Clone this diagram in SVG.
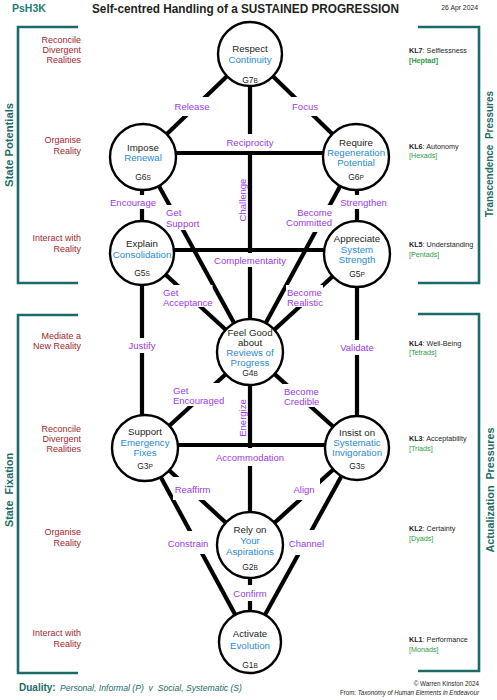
<svg xmlns="http://www.w3.org/2000/svg" width="497" height="700" viewBox="0 0 497 700">
<style>
text{font-family:"Liberation Sans",Arial,sans-serif;}
.e{stroke:#000;stroke-width:4.2;fill:none;}
.bk{stroke:#1b6b67;stroke-width:2.6;fill:none;}
.n{fill:#fff;stroke:#000;stroke-width:2.4;}
.t{font-size:9.7px;fill:#231f20;text-anchor:middle;}
.b{fill:#2a8ad4;}
.c{font-size:8.5px;fill:#231f20;text-anchor:middle;}
.s{font-size:6.5px;}
.l{font-size:9.5px;fill:#9b3ae8;}
.m{text-anchor:middle;}
.bg{fill:#fff;}
.r{font-size:9px;fill:#a4262c;text-anchor:end;}
.k{font-size:7.2px;fill:#231f20;}
.kb{font-weight:bold;}
.g{font-size:7.2px;fill:#2e9a48;}
.side{font-size:11px;font-weight:bold;fill:#1b6b67;text-anchor:middle;}
</style>

<g id="header">
<text x="12" y="11.5" style="font-size:10.5px;font-weight:bold;fill:#1b7d76">PsH3K</text>
<text x="245.5" y="13" textLength="307" lengthAdjust="spacingAndGlyphs" style="font-size:13px;font-weight:bold;fill:#231f20;text-anchor:middle">Self-centred Handling of a SUSTAINED PROGRESSION</text>
<text x="478" y="10" style="font-size:6.8px;fill:#231f20;text-anchor:end">26 Apr 2024</text>
</g>

<g id="brackets">
<path class="bk" d="M78,27 H18 V283 H78"/>
<path class="bk" d="M78,315 H18 V673 H78"/>
<path class="bk" d="M418,27 H479 V283 H418"/>
<path class="bk" d="M418,314 H479 V671 H418"/>
<text class="side" transform="translate(13,145) rotate(-90)" textLength="84" lengthAdjust="spacingAndGlyphs">State Potentials</text>
<text class="side" transform="translate(13,490) rotate(-90)" textLength="74" lengthAdjust="spacingAndGlyphs" xml:space="preserve">State  Fixation</text>
<text class="side" transform="translate(493,154) rotate(-90)" textLength="126" lengthAdjust="spacingAndGlyphs" xml:space="preserve">Transcendence  Pressures</text>
<text class="side" transform="translate(494,490) rotate(-90)" textLength="125" lengthAdjust="spacingAndGlyphs" xml:space="preserve">Actualization  Pressures</text>
</g>

<g id="left-labels">
<text class="r" x="81" y="43">Reconcile</text>
<text class="r" x="81" y="53">Divergent</text>
<text class="r" x="81" y="63">Realities</text>
<text class="r" x="81" y="143">Organise</text>
<text class="r" x="81" y="154">Reality</text>
<text class="r" x="81" y="241">Interact with</text>
<text class="r" x="81" y="252">Reality</text>
<text class="r" x="81" y="339">Mediate a</text>
<text class="r" x="81" y="349">New Reality</text>
<text class="r" x="81" y="432">Reconcile</text>
<text class="r" x="81" y="442">Divergent</text>
<text class="r" x="81" y="452">Realities</text>
<text class="r" x="81" y="535">Organise</text>
<text class="r" x="81" y="546">Reality</text>
<text class="r" x="81" y="636">Interact with</text>
<text class="r" x="81" y="647">Reality</text>
</g>

<g id="right-labels">
<text class="k" x="409" y="52.5"><tspan class="kb">KL7</tspan>: Selflessness</text>
<text class="g" x="409" y="62.5" font-weight="bold">[Heptad]</text>
<text class="k" x="409" y="148.5"><tspan class="kb">KL6</tspan>: Autonomy</text>
<text class="g" x="409" y="158">[Hexads]</text>
<text class="k" x="409" y="246.5"><tspan class="kb">KL5</tspan>: Understanding</text>
<text class="g" x="409" y="256.5">[Pentads]</text>
<text class="k" x="409" y="345.5"><tspan class="kb">KL4</tspan>: Well-Being</text>
<text class="g" x="409" y="355">[Tetrads]</text>
<text class="k" x="409" y="440.5"><tspan class="kb">KL3</tspan>: Acceptability</text>
<text class="g" x="409" y="450.5">[Triads]</text>
<text class="k" x="409" y="530.5"><tspan class="kb">KL2</tspan>: Certainty</text>
<text class="g" x="409" y="540.5">[Dyads]</text>
<text class="k" x="409" y="641.5"><tspan class="kb">KL1</tspan>: Performance</text>
<text class="g" x="409" y="651.5">[Monads]</text>
</g>

<g id="connectors">
<line class="e" x1="250" y1="54" x2="143" y2="157"/>
<line class="e" x1="250" y1="54" x2="356" y2="157"/>
<line class="e" x1="250" y1="54" x2="250" y2="545"/>
<line class="e" x1="143" y1="153" x2="356" y2="153"/>
<line class="e" x1="142" y1="157" x2="142" y2="448"/>
<line class="e" x1="357" y1="157" x2="357" y2="448"/>
<line class="e" x1="143" y1="157" x2="250" y2="352"/>
<line class="e" x1="356" y1="157" x2="250" y2="352"/>
<line class="e" x1="142" y1="250" x2="357" y2="250"/>
<line class="e" x1="142" y1="253" x2="250" y2="352"/>
<line class="e" x1="357" y1="254" x2="250" y2="352"/>
<line class="e" x1="250" y1="352" x2="145" y2="448"/>
<line class="e" x1="250" y1="352" x2="357" y2="448"/>
<line class="e" x1="145" y1="445" x2="357" y2="445"/>
<line class="e" x1="145" y1="448" x2="250" y2="545"/>
<line class="e" x1="357" y1="448" x2="250" y2="545"/>
<line class="e" x1="145" y1="448" x2="250" y2="642"/>
<line class="e" x1="357" y1="448" x2="250" y2="642"/>
<line class="e" x1="250" y1="545" x2="250" y2="642"/>

<rect class="bg" x="174" y="97" width="36" height="19"/>
<rect class="bg" x="291" y="97" width="28" height="19"/>
<rect class="bg" x="224" y="134" width="52" height="17"/>
<rect class="bg" x="109" y="195" width="48" height="14"/>
<rect class="bg" x="338" y="195" width="51" height="14"/>
<rect class="bg" x="164" y="205" width="38" height="25"/>
<rect class="bg" x="282" y="205" width="52" height="27"/>
<rect class="bg" x="211" y="253" width="78" height="14"/>
<rect class="bg" x="162" y="285" width="50.5" height="22"/>
<rect class="bg" x="286" y="285" width="37" height="22"/>
<rect class="bg" x="126" y="338" width="32" height="15"/>
<rect class="bg" x="338" y="340" width="38" height="15"/>
<rect class="bg" x="171" y="383" width="55" height="23"/>
<rect class="bg" x="282" y="384" width="39" height="23"/>
<rect class="bg" x="213" y="448" width="74" height="18"/>
<rect class="bg" x="173" y="477" width="39" height="23"/>
<rect class="bg" x="291" y="476" width="29" height="24"/>
<rect class="bg" x="166" y="531" width="44" height="23"/>
<rect class="bg" x="287" y="530" width="39" height="25"/>
<rect class="bg" x="231" y="585" width="38" height="16"/>

<text class="l m" x="192" y="109.5">Release</text>
<text class="l m" x="305" y="109.5">Focus</text>
<text class="l m" x="250" y="145.5">Reciprocity</text>
<text class="l m" transform="translate(245.5,200) rotate(-90)">Challenge</text>
<text class="l m" x="133" y="205.5">Encourage</text>
<text class="l m" x="363.5" y="205.5">Strengthen</text>
<text class="l" x="166" y="215.5">Get</text>
<text class="l" x="166" y="226.5">Support</text>
<text class="l" x="332" y="215.5" text-anchor="end">Become</text>
<text class="l" x="332" y="226" text-anchor="end">Committed</text>
<text class="l m" x="250" y="263.5">Complementarity</text>
<text class="l" x="163" y="295.5">Get</text>
<text class="l" x="163" y="305.5">Acceptance</text>
<text class="l" x="287" y="295.5">Become</text>
<text class="l" x="287" y="305.5">Realistic</text>
<text class="l m" x="142" y="348.5">Justify</text>
<text class="l m" x="357" y="350.5">Validate</text>
<text class="l" x="173" y="393.5">Get</text>
<text class="l" x="173" y="403.5">Encouraged</text>
<text class="l" x="284" y="394.5">Become</text>
<text class="l" x="284" y="404.5">Credible</text>
<text class="l m" transform="translate(245.5,418) rotate(-90)">Energize</text>
<text class="l m" x="250" y="460.5">Accommodation</text>
<text class="l m" x="192.5" y="492.5">Reaffirm</text>
<text class="l m" x="304" y="492.5">Align</text>
<text class="l m" x="188" y="546.5">Constrain</text>
<text class="l m" x="306.5" y="546.5">Channel</text>
<text class="l m" x="250" y="596.5">Confirm</text>
</g>

<g id="node-g7">
<circle class="n" cx="250" cy="54" r="32"/>
<text class="t" x="250" y="51.5">Respect</text>
<text class="t b" x="250" y="62.5">Continuity</text>
<text class="c" x="250" y="83">G7<tspan class="s">B</tspan></text>
</g>
<g id="node-g6s">
<circle class="n" cx="143" cy="157" r="33"/>
<text class="t" x="143" y="150.5">Impose</text>
<text class="t b" x="143" y="160.5">Renewal</text>
<text class="c" x="143" y="179.5">G6<tspan class="s">S</tspan></text>
</g>
<g id="node-g6p">
<circle class="n" cx="356" cy="157" r="33"/>
<text class="t" x="356" y="145.5">Require</text>
<text class="t b" x="356" y="155.5">Regeneration</text>
<text class="t b" x="356" y="165.5">Potential</text>
<text class="c" x="356" y="180">G6<tspan class="s">P</tspan></text>
</g>
<g id="node-g5s">
<circle class="n" cx="142" cy="253" r="32"/>
<text class="t" x="142" y="246.5">Explain</text>
<text class="t b" x="142" y="257.5">Consolidation</text>
<text class="c" x="142" y="276">G5<tspan class="s">S</tspan></text>
</g>
<g id="node-g5p">
<circle class="n" cx="357" cy="254" r="33"/>
<text class="t" x="357" y="241.5">Appreciate</text>
<text class="t b" x="357" y="252.5">System</text>
<text class="t b" x="357" y="263">Strength</text>
<text class="c" x="357" y="276.5">G5<tspan class="s">P</tspan></text>
</g>
<g id="node-g4">
<circle class="n" cx="250" cy="352" r="33"/>
<text class="t" x="250" y="335.5">Feel Good</text>
<text class="t" x="250" y="345.5">about</text>
<text class="t b" x="250" y="355.5">Reviews of</text>
<text class="t b" x="250" y="365.5">Progress</text>
<text class="c" x="250" y="376">G4<tspan class="s">B</tspan></text>
</g>
<g id="node-g3p">
<circle class="n" cx="145" cy="448" r="33"/>
<text class="t" x="145" y="435">Support</text>
<text class="t b" x="145" y="446">Emergency</text>
<text class="t b" x="145" y="456">Fixes</text>
<text class="c" x="145" y="468.5">G3<tspan class="s">P</tspan></text>
</g>
<g id="node-g3s">
<circle class="n" cx="357" cy="448" r="32"/>
<text class="t" x="357" y="435.5">Insist on</text>
<text class="t b" x="357" y="445.5">Systematic</text>
<text class="t b" x="357" y="455.5">Invigoration</text>
<text class="c" x="357" y="468.5">G3<tspan class="s">S</tspan></text>
</g>
<g id="node-g2">
<circle class="n" cx="250" cy="545" r="33"/>
<text class="t" x="250" y="532.5">Rely on</text>
<text class="t b" x="250" y="543.5">Your</text>
<text class="t b" x="250" y="554.5">Aspirations</text>
<text class="c" x="250" y="570">G2<tspan class="s">B</tspan></text>
</g>
<g id="node-g1">
<circle class="n" cx="250" cy="642" r="31"/>
<text class="t" x="250" y="636.5">Activate</text>
<text class="t b" x="250" y="648.5">Evolution</text>
<text class="c" x="250" y="668">G1<tspan class="s">B</tspan></text>
</g>

<g id="footer">
<text x="19" y="691" style="font-size:10px;font-weight:bold;fill:#1b6b67">Duality:</text>
<text x="60" y="691" textLength="182" lengthAdjust="spacingAndGlyphs" xml:space="preserve" style="font-size:9.5px;font-style:italic;fill:#1b6b67">Personal, Informal (P)  v  Social, Systematic (S)</text>
<text x="479" y="686" style="font-size:6.3px;fill:#231f20;text-anchor:end">© Warren Kinston 2024</text>
<text x="479" y="695" textLength="139" lengthAdjust="spacingAndGlyphs" style="font-size:6.3px;fill:#231f20;text-anchor:end">From: <tspan font-style="italic">Taxonomy of Human Elements in Endeavour</tspan></text>
</g>
</svg>
